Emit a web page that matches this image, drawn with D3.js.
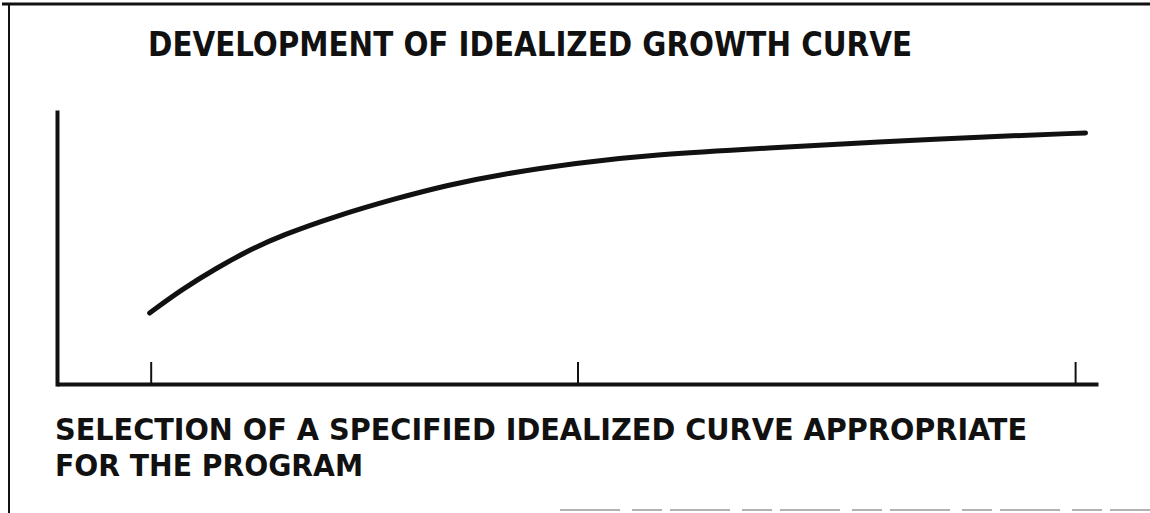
<!DOCTYPE html>
<html>
<head>
<meta charset="utf-8">
<script src="https://cdn.jsdelivr.net/npm/d3@7"></script>
<style>
  html, body { margin: 0; padding: 0; background: #fff; }
  svg { display: block; }
  text { font-family: "DejaVu Sans Condensed", "Liberation Sans Narrow", "DejaVu Sans", sans-serif; font-weight: bold; fill: #111; }
</style>
</head>
<body>
<svg id="chart" width="1150" height="513"></svg>
<script>
// ---- data ----
const title = "DEVELOPMENT OF IDEALIZED  GROWTH  CURVE";
const captionLines = ["SELECTION OF A  SPECIFIED  IDEALIZED  CURVE  APPROPRIATE", "FOR THE  PROGRAM"];
const timeValues   = [8.9, 12.0, 15.4, 18.5, 21.7, 26.5, 32.7, 37.6, 42.2, 50.0, 57.0, 68.5, 79.2, 88.4, 98.8];
const growthValues = [26.1, 34.8, 42.8, 49.3, 54.8, 61.4, 68.4, 73.2, 76.8, 81.3, 84.2, 86.8, 89.0, 90.8, 92.3];
const tickValues   = [9, 50, 97.8];

const svg = d3.select("#chart");

// page frame (scanned border)
svg.append("line").attr("x1", 2).attr("x2", 1150).attr("y1", 4).attr("y2", 4)
  .attr("stroke", "#111").attr("stroke-width", 3);
svg.append("line").attr("x1", 9).attr("x2", 9).attr("y1", 4).attr("y2", 513)
  .attr("stroke", "#111").attr("stroke-width", 2);
svg.append("line").attr("x1", 560).attr("x2", 1150).attr("y1", 510).attr("y2", 510)
  .attr("stroke", "#666").attr("stroke-width", 1).attr("stroke-dasharray", "60,12,30,8");

const x = d3.scaleLinear().domain([0, 100]).range([57, 1098]);
const y = d3.scaleLinear().domain([0, 100]).range([384, 112]);

// axes
const xAxis = d3.axisTop(x).tickValues(tickValues).tickSize(22).tickFormat("").tickSizeOuter(0);
const gx = svg.append("g").attr("transform", "translate(0,384)").call(xAxis);
gx.select(".domain").attr("stroke", "#111").attr("stroke-width", 4);
gx.selectAll(".tick line").attr("stroke", "#111").attr("stroke-width", 2);

const yAxis = d3.axisLeft(y).tickValues([]).tickSizeOuter(0);
const gy = svg.append("g").attr("transform", "translate(57,0)").call(yAxis);
gy.select(".domain").attr("stroke", "#111").attr("stroke-width", 4).attr("stroke-linecap", "square");

// growth curve
const pts = timeValues.map((t, i) => [t, growthValues[i]]);
const line = d3.line().x(d => x(d[0])).y(d => y(d[1])).curve(d3.curveBasis);
svg.append("path").datum(pts).attr("d", line)
  .attr("fill", "none").attr("stroke", "#111").attr("stroke-width", 5).attr("stroke-linecap", "round");

// title
svg.append("text").attr("x", 148).attr("y", 56).attr("font-size", 33)
  .attr("textLength", 764).attr("lengthAdjust", "spacingAndGlyphs").text(title);

// caption
const capWidths = [972, 308];
const capBase = [440, 476];
captionLines.forEach((t, i) => {
  svg.append("text").attr("x", 55).attr("y", capBase[i]).attr("font-size", 30)
    .attr("textLength", capWidths[i]).attr("lengthAdjust", "spacingAndGlyphs").text(t);
});
</script>
</body>
</html>
